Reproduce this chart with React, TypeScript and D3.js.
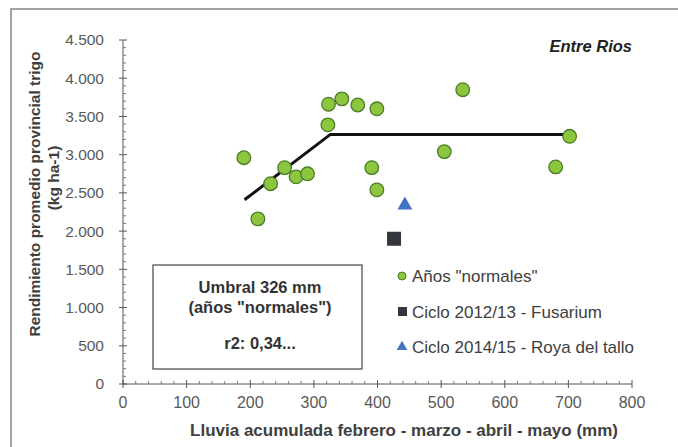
import * as d3 from "d3";
import React from "react";

// lluvia (mm) y rendimiento (kg/ha) - años "normales"
const lluviaNormales = [190, 212, 232, 254, 272, 290, 322, 323, 344, 369, 399, 391, 399, 505, 534, 702, 680];
const rindeNormales = [2960, 2160, 2620, 2830, 2710, 2750, 3390, 3660, 3730, 3650, 3600, 2830, 2540, 3040, 3850, 3240, 2840];

const fusarium = { lluvia: 426, rinde: 1900 };
const roya = { lluvia: 443, rinde: 2340 };

// modelo lineal-plateau
const modeloLluvia = [191, 326, 702];
const modeloRinde = [2410, 3265, 3265];

const xTicks = [0, 100, 200, 300, 400, 500, 600, 700, 800];
const yTicks = [0, 500, 1000, 1500, 2000, 2500, 3000, 3500, 4000, 4500];

const W = 678;
const H = 447;
const font = "'Liberation Sans', Arial, sans-serif";
const green = "#8cc63f";
const greenStroke = "#4d7d27";
const squareCol = "#33363c";
const blue = "#4472c4";

const fmt = (v: number) => d3.format(",")(v).replace(/,/g, ".");

const App: React.FC = () => {
    const x = d3.scaleLinear().domain([0, 800]).range([123, 632]);
    const y = d3.scaleLinear().domain([0, 4500]).range([384, 40]);
    const line = d3.line<number>().x(d => x(modeloLluvia[d])).y(d => y(modeloRinde[d]));
    const xMinor = d3.range(0, 801, 20).filter(v => v % 100 !== 0);
    const yMinor = d3.range(0, 4501, 100).filter(v => v % 500 !== 0);
    const tri = d3.symbol().type(d3.symbolTriangle).size(95)()!;

    return (
        <svg width={W} height={H} style={{ position: "absolute", left: 0, top: 0, background: "white", fontFamily: font }}>
            <rect x={11} y={9} width={W} height={H} fill="none" stroke="#9a9a9a" strokeWidth={1.8} />

            {/* eje y */}
            <line x1={x(0)} x2={x(0)} y1={y(0)} y2={y(4500)} stroke="#555" />
            {yTicks.map(t => (
                <g key={t}>
                    <line x1={x(0) - 4} x2={x(0) + 4} y1={y(t)} y2={y(t)} stroke="#555" />
                    <text x={104} y={y(t)} dy="0.35em" textAnchor="end" fontSize={15.5} fill="#595959">{fmt(t)}</text>
                </g>
            ))}
            {yMinor.map(t => (
                <line key={t} x1={x(0)} x2={x(0) + 3} y1={y(t)} y2={y(t)} stroke="#777" />
            ))}

            {/* eje x */}
            <line x1={x(0)} x2={x(800)} y1={y(0)} y2={y(0)} stroke="#555" />
            {xTicks.map(t => (
                <g key={t}>
                    <line x1={x(t)} x2={x(t)} y1={y(0) - 4} y2={y(0) + 4} stroke="#555" />
                    <text x={x(t)} y={402} dy="0.35em" textAnchor="middle" fontSize={16} fill="#595959">{t}</text>
                </g>
            ))}
            {xMinor.map(t => (
                <line key={t} x1={x(t)} x2={x(t)} y1={y(0) - 3} y2={y(0)} stroke="#777" />
            ))}

            {/* titulos */}
            <text transform="translate(35,194) rotate(-90)" dy="0.35em" textAnchor="middle" fontSize={15.5} fontWeight="bold" fill="#404040">
                Rendimiento promedio provincial trigo
            </text>
            <text transform="translate(54,178) rotate(-90)" dy="0.35em" textAnchor="middle" fontSize={15.5} fontWeight="bold" fill="#404040">
                (kg ha-1)
            </text>
            <text x={404} y={430} dy="0.35em" textAnchor="middle" fontSize={17} fontWeight="bold" fill="#404040">
                Lluvia acumulada febrero - marzo - abril - mayo (mm)
            </text>
            <text x={632} y={46} dy="0.35em" textAnchor="end" fontSize={16.5} fontWeight="bold" fontStyle="italic" fill="#222">
                Entre Rios
            </text>

            {/* modelo */}
            <path d={line(d3.range(modeloLluvia.length)) ?? ""} fill="none" stroke="#111" strokeWidth={3} />

            {/* puntos */}
            {lluviaNormales.map((v, i) => (
                <circle key={i} cx={x(v)} cy={y(rindeNormales[i])} r={6.8} fill={green} stroke={greenStroke} strokeWidth={1.3} />
            ))}
            <rect x={x(fusarium.lluvia) - 7} y={y(fusarium.rinde) - 7} width={14} height={14} fill={squareCol} />
            <path d={tri} transform={`translate(${x(roya.lluvia)},${y(roya.rinde)})`} fill={blue} />

            {/* recuadro umbral */}
            <rect x={153} y={265} width={209} height={104} fill="white" stroke="#444" strokeWidth={1.2} />
            <text x={260} y={287} dy="0.35em" textAnchor="middle" fontSize={16.5} fontWeight="bold" fill="#333">Umbral 326 mm</text>
            <text x={260} y={307} dy="0.35em" textAnchor="middle" fontSize={16.5} fontWeight="bold" fill="#333">(años "normales")</text>
            <text x={260} y={343} dy="0.35em" textAnchor="middle" fontSize={16.5} fontWeight="bold" fill="#333">r2: 0,34...</text>

            {/* leyenda */}
            <circle cx={402} cy={276} r={4} fill={green} stroke={greenStroke} strokeWidth={1} />
            <text x={412} y={276} dy="0.35em" fontSize={17} fill="#404040">Años "normales"</text>
            <rect x={398} y={307} width={9} height={9} fill={squareCol} />
            <text x={412} y={312} dy="0.35em" fontSize={17} fill="#404040">Ciclo 2012/13 - Fusarium</text>
            <path d={d3.symbol().type(d3.symbolTriangle).size(50)()!} transform="translate(402,347)" fill={blue} />
            <text x={412} y={347} dy="0.35em" fontSize={17} fill="#404040">Ciclo 2014/15 - Roya del tallo</text>
        </svg>
    );
};

export default App;
